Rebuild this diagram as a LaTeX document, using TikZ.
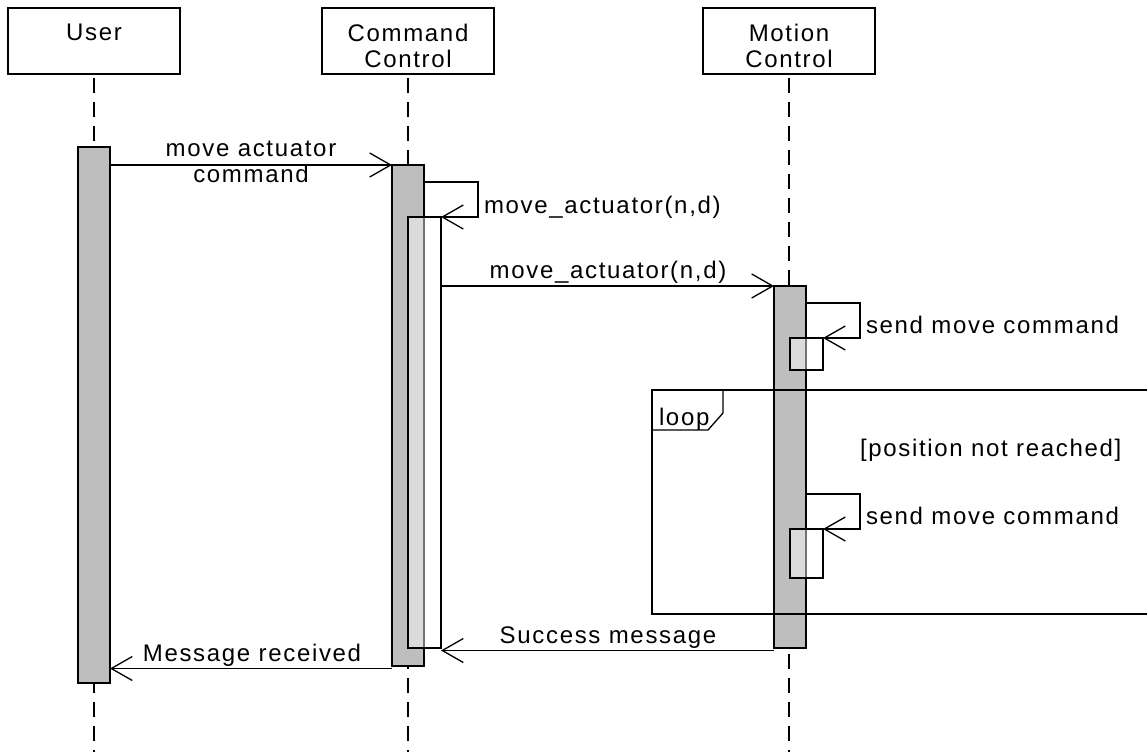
\documentclass[tikz,border=0pt]{standalone}
\usepackage{fontspec}
\setmainfont{Liberation Sans}[LetterSpace=7]
\usetikzlibrary{arrows.meta,calc}
\definecolor{barfill}{RGB}{190,190,190}
\begin{document}
\begin{tikzpicture}[x=1pt,y=-1pt,line width=1.3pt,
  every node/.style={inner sep=0pt,outer sep=0pt,font=\fontsize{24}{26}\selectfont},
  lane/.style={draw,fill=white,minimum width=172,minimum height=66,anchor=north west},
  life/.style={dash pattern=on 15pt off 9pt,dash phase=20pt},
  actbar/.style={draw,fill=barfill,minimum width=32,anchor=north west},
  subbar/.style={draw,fill=white,fill opacity=0.45,minimum width=33,anchor=north west},
  msg/.style={-{Straight Barb[length=21pt,width=24pt]}},
  tag/.style={anchor=base},
  tagw/.style={anchor=base west}]
\useasboundingbox (0,0) rectangle (1147,752);

% participants
\node[lane] (hu) at (8,8) {};
\node[lane] (hc) at (322,8) {};
\node[lane] (hm) at (703,8) {};
\node[anchor=north,align=center] (tu) at (hu.north |- 0,24) {User};
\node[anchor=north,align=center] (tc) at (hc.north |- 0,24) {Command\\Control};
\node[anchor=north,align=center] (tm) at (hm.north |- 0,24) {Motion\\Control};

% lifelines
\coordinate (eu) at (hu.south |- 0,752);
\coordinate (ec) at (hc.south |- 0,752);
\coordinate (em) at (hm.south |- 0,752);
\draw[life] (hu.south) -- (eu);
\draw[life] (hc.south) -- (ec);
\draw[life] (hm.south) -- (em);

% activations
\node[actbar,minimum height=536] (ubar) at (78,147) {};
\node[actbar,minimum height=501] (cbar) at (392,165) {};
\node[actbar,minimum height=362] (mbar) at (774,286) {};

% loop fragment
\coordinate (fa) at (652,390);
\coordinate (fb) at (1147,614);
\draw (fa -| fb) -- (fa) -- (fa |- fb) -- (fb);
\draw ($(fa)+(0,40)$) -- ($(fa)+(56,40)$) -- ($(fa)+(71,23)$) -- ($(fa)+(71,0)$);
\node[tagw] (lp) at (659,425) {loop};
\node[tagw] (guard) at (860,456.5) {[position not reached]};

% nested activations
\node[subbar,minimum height=431] (nbar) at (408,217) {};
\node[subbar,minimum height=32] (s1) at (790,338) {};
\node[subbar,minimum height=49] (s2) at (790,529) {};

% messages
\draw[msg] (cbar.north west -| ubar.east) -- (cbar.north west);
\node[anchor=north,align=center] (l1) at (251,141) {move actuator\\command};

\draw[msg] (cbar.east |- 0,182) -| ($(nbar.north east)+(37,0)$) -- (nbar.north east);
\node[tagw] (l2) at (484,213) {move\_actuator(n,d)};

\draw[msg] (mbar.north west -| nbar.east) -- (mbar.north west);
\node[tag] (l3) at (608,278) {move\_actuator(n,d)};

\draw[msg] (mbar.east |- 0,303) -| ($(s1.north east)+(37,0)$) -- (s1.north east);
\node[tagw] (l4) at (866,333) {send move command};

\draw[msg] (mbar.east |- 0,494) -| ($(s2.north east)+(37,0)$) -- (s2.north east);
\node[tagw] (l5) at (866,524) {send move command};

\draw[msg] ($(mbar.south west)+(0,2.5)$) -- ($(nbar.south east)+(0,2.5)$);
\node[tag] (l6) at (608,643) {Success message};

\draw[msg] ($(cbar.south west)+(0,2.5)$) -- ($(ubar.east |- cbar.south)+(0,2.5)$);
\node[tag] (l7) at (252,661.5) {Message received};
\end{tikzpicture}
\end{document}
